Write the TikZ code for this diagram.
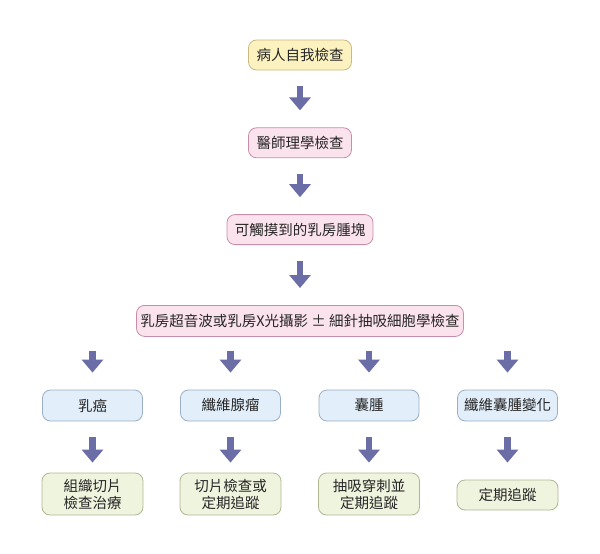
\documentclass[tikz,border=0pt]{standalone}
\usepackage{fontspec}
\newfontfamily\tcfont{Noto Sans CJK TC}
\usetikzlibrary{arrows.meta,positioning}
\definecolor{yellowfill}{HTML}{FCF2C0}
\definecolor{yellowline}{HTML}{C9B983}
\definecolor{pinkfill}{HTML}{FBE3EE}
\definecolor{pinkline}{HTML}{C88DA9}
\definecolor{bluefill}{HTML}{E2EEF9}
\definecolor{blueline}{HTML}{9AAFC5}
\definecolor{greenfill}{HTML}{EFF4DE}
\definecolor{greenline}{HTML}{AFB792}
\definecolor{arrowblue}{HTML}{6A6DA6}
\begin{document}
\begin{tikzpicture}[
  x=1pt, y=1pt,
  font=\tcfont\fontsize{14.5}{17}\selectfont,
  box/.style={draw, rounded corners=8pt, align=center, minimum height=30pt, inner sep=2pt, line width=0.8pt, text=black!85},
  yellowbox/.style={box, fill=yellowfill, draw=yellowline, minimum width=103pt},
  pinkbox/.style={box, fill=pinkfill, draw=pinkline},
  bluebox/.style={box, fill=bluefill, draw=blueline, minimum width=100pt, minimum height=31pt},
  greenbox/.style={box, fill=greenfill, draw=greenline, minimum width=101pt},
  bigarrow/.style={draw=arrowblue, line width=6.5pt, -{Triangle[width=21pt,length=13pt]}, shorten <=16pt, shorten >=17pt}
]
\useasboundingbox (0,0) rectangle (600,-554);

\node[yellowbox] (self) at (300,-55) {病人自我檢查};
\node[pinkbox, minimum width=103pt, below=57pt of self] (doctor) {醫師理學檢查};
\node[pinkbox, minimum width=146pt, below=56pt of doctor] (lump) {可觸摸到的乳房腫塊};
\node[pinkbox, minimum width=327pt, minimum height=31pt, below=60pt of lump] (exam) {乳房超音波或乳房X光攝影 ± 細針抽吸細胞學檢查};

\node[bluebox] (cancer) at (92.5,-405.5) {乳癌};
\node[bluebox] (fibro) at (230.5,-405.5) {纖維腺瘤};
\node[bluebox] (cyst) at (369,-405.5) {囊腫};
\node[bluebox] (fcc) at (507.5,-405.5) {纖維囊腫變化};

\node[greenbox, minimum height=42pt] (biopsy) at (92.5,-494) {組織切片\\檢查治療};
\node[greenbox, minimum height=42pt] (follow) at (230.5,-494) {切片檢查或\\定期追蹤};
\node[greenbox, minimum height=42pt] (aspir) at (369,-494) {抽吸穿刺並\\定期追蹤};
\node[greenbox] (watch) at (507.5,-495) {定期追蹤};

\draw[bigarrow] (self) -- (doctor);
\draw[bigarrow] (doctor) -- (lump);
\draw[bigarrow] (lump) -- (exam);
\foreach \col in {cancer,fibro,cyst,fcc}
  \draw[bigarrow, shorten <=14pt] (exam.south -| \col) -- (\col.north);
\draw[bigarrow, shorten >=10pt] (cancer) -- (biopsy);
\draw[bigarrow, shorten >=10pt] (fibro) -- (follow);
\draw[bigarrow, shorten >=10pt] (cyst) -- (aspir);
\draw[bigarrow] (fcc) -- (watch);
\end{tikzpicture}
\end{document}
